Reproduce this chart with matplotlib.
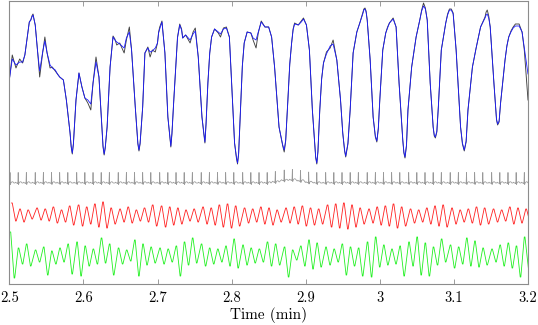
import numpy as np
import matplotlib
matplotlib.use("Agg")
import matplotlib.pyplot as plt

# ---------------- data ----------------
# top trace: time (min) and amplitude (arbitrary units)
top_t = [2.500, 2.504, 2.509, 2.514, 2.518, 2.521, 2.527, 2.529, 2.532, 2.535, 2.538, 2.541,
         2.545, 2.548, 2.551, 2.555, 2.558, 2.562, 2.565, 2.568, 2.573, 2.577, 2.582, 2.585,
         2.590, 2.594, 2.598, 2.602, 2.606, 2.610, 2.613, 2.617, 2.621, 2.625, 2.628, 2.632,
         2.636, 2.640, 2.645, 2.649, 2.655, 2.658, 2.662, 2.665, 2.670, 2.675, 2.680, 2.683,
         2.687, 2.690, 2.693, 2.697, 2.700, 2.703, 2.706, 2.710, 2.714, 2.718, 2.722, 2.727,
         2.730, 2.734, 2.738, 2.744, 2.748, 2.751, 2.755, 2.760, 2.764, 2.768, 2.773, 2.777,
         2.782, 2.785, 2.789, 2.793, 2.797, 2.800, 2.804, 2.808, 2.812, 2.817, 2.821, 2.826,
         2.829, 2.833, 2.836, 2.840, 2.845, 2.850, 2.854, 2.858, 2.864, 2.871, 2.876, 2.881,
         2.885, 2.890, 2.894, 2.897, 2.901, 2.905, 2.909, 2.915, 2.919, 2.924, 2.928, 2.933,
         2.937, 2.942, 2.947, 2.950, 2.954, 2.960, 2.964, 2.969, 2.973, 2.977, 2.980, 2.983,
         2.987, 2.991, 2.996, 3.000, 3.004, 3.008, 3.013, 3.018, 3.022, 3.026, 3.031, 3.034,
         3.038, 3.043, 3.049, 3.054, 3.059, 3.064, 3.068, 3.072, 3.075, 3.079, 3.083, 3.089,
         3.094, 3.099, 3.103, 3.109, 3.114, 3.119, 3.125, 3.130, 3.136, 3.142, 3.145, 3.149,
         3.154, 3.159, 3.163, 3.169, 3.174, 3.180, 3.183, 3.188, 3.192, 3.195, 3.200]

top_black = [204, 229, 216, 225, 221, 229, 262, 264, 270, 259, 234, 207,
             231, 247, 231, 216, 217, 213, 210, 207, 204, 184, 151, 130,
             184, 211, 197, 186, 181, 174, 201, 227, 207, 157, 129, 157,
             217, 248, 239, 241, 231, 244, 257, 234, 177, 133, 177, 231,
             237, 227, 234, 232, 241, 257, 263, 231, 167, 137, 184, 247,
             260, 246, 249, 241, 252, 256, 227, 167, 141, 201, 247, 255,
             251, 247, 256, 257, 247, 201, 141, 120, 174, 241, 252, 251,
             244, 236, 251, 263, 257, 257, 247, 217, 157, 132, 184, 241,
             261, 259, 263, 266, 259, 234, 174, 120, 174, 221, 232, 236,
             244, 224, 184, 151, 127, 174, 231, 252, 261, 271, 276, 264,
             224, 167, 142, 184, 234, 251, 261, 266, 257, 201, 144, 126,
             174, 217, 247, 264, 281, 264, 201, 157, 146, 177, 234, 261,
             275, 271, 234, 157, 133, 174, 217, 236, 257, 267, 274, 257,
             201, 159, 181, 224, 247, 257, 260, 260, 252, 234, 184]

top_blue = [204, 225, 219, 222, 222, 229, 262, 264, 269, 259, 234, 213,
            232, 243, 231, 219, 216, 214, 210, 207, 204, 184, 151, 131,
            184, 211, 197, 186, 184, 180, 201, 222, 207, 157, 130, 157,
            217, 247, 242, 240, 236, 246, 252, 234, 177, 134, 177, 231,
            236, 232, 233, 236, 241, 255, 262, 231, 167, 138, 184, 246,
            259, 246, 249, 244, 250, 253, 227, 167, 142, 201, 247, 255,
            252, 250, 255, 256, 247, 201, 141, 121, 174, 241, 252, 251,
            246, 244, 252, 262, 257, 257, 247, 217, 157, 134, 184, 241,
            260, 259, 262, 265, 259, 234, 174, 121, 174, 221, 230, 238,
            240, 224, 184, 151, 128, 174, 231, 252, 261, 270, 275, 264,
            224, 167, 143, 184, 234, 251, 261, 265, 257, 201, 144, 127,
            174, 217, 247, 264, 278, 264, 201, 157, 147, 177, 234, 261,
            274, 270, 234, 157, 134, 174, 217, 236, 257, 266, 270, 257,
            201, 160, 181, 224, 247, 256, 258, 258, 252, 236, 210]

# extra points read near the rounded troughs and the shoulders of the top trace
top_t_extra = [2.5835, 2.5865, 2.6265, 2.6295, 2.6735, 2.6765, 2.7165, 2.7195,
               2.7625, 2.7655, 2.8065, 2.8095, 2.8690, 2.8730, 2.9135, 2.9165,
               2.9525, 2.9570, 2.9940, 2.9980, 3.0325, 3.0360, 3.0735, 3.0770,
               3.1115, 3.1165, 3.1575, 3.1610,
               2.5305, 2.6385, 2.6425, 2.7015, 2.7325, 2.7705, 2.8145, 2.8785,
               2.8830, 2.9215, 2.9785, 2.9815, 3.0105, 3.0565, 3.0615, 3.0915,
               3.0965, 3.1435, 3.1470, 3.1715, 3.1770]
top_black_extra = [137, 140, 137, 136, 140, 140, 148, 150,
                   150, 160, 126, 130, 138, 143, 126, 132,
                   133, 140, 147, 155, 131, 138, 148, 152,
                   140, 142, 164, 162,
                   268, 237, 245, 252, 255, 231, 218, 220,
                   255, 205, 275, 273, 257, 274, 276, 270,
                   275, 272, 268, 238, 253]
top_blue_extra = [138, 140, 138, 137, 141, 141, 149, 151,
                  151, 160, 127, 131, 139, 144, 127, 133,
                  134, 141, 148, 156, 132, 139, 149, 153,
                  141, 143, 165, 163,
                  267, 236, 244, 251, 254, 231, 218, 220,
                  254, 205, 274, 272, 256, 273, 275, 269,
                  274, 269, 266, 238, 252]

# ECG: R-peak times (min) and local baseline level
ecg_beats = [2.501, 2.512, 2.523, 2.535, 2.546, 2.557, 2.568, 2.579, 2.591, 2.602,
             2.613, 2.624, 2.635, 2.647, 2.658, 2.669, 2.680, 2.691, 2.703, 2.714,
             2.725, 2.736, 2.747, 2.759, 2.770, 2.781, 2.792, 2.803, 2.815, 2.826,
             2.837, 2.848, 2.859, 2.871, 2.882, 2.893, 2.904, 2.915, 2.927, 2.938,
             2.949, 2.960, 2.971, 2.983, 2.994, 3.005, 3.016, 3.027, 3.039, 3.050,
             3.061, 3.072, 3.083, 3.095, 3.106, 3.117, 3.128, 3.139, 3.151, 3.162,
             3.173, 3.184, 3.195]
ecg_base = [101, 101, 101, 101, 101, 101, 101, 101, 101, 101,
            101, 101, 101, 101, 101, 101, 101, 101, 101, 101,
            101, 101, 101, 101, 101, 101, 101, 101, 101, 101,
            101, 101, 102, 103.5, 104, 103, 101.5, 101, 101, 101,
            101, 101, 101, 101, 101, 101, 101, 101, 101, 101,
            101, 101, 101, 101, 101, 101, 101, 101, 101, 101,
            101, 101, 101]
# one beat waveform: offset from R peak (min) and height above baseline
beat_dt = [-0.0045, -0.0035, -0.0025, -0.0012, -0.0005, 0.0, 0.0005, 0.0011, 0.0025, 0.0038, 0.0052]
beat_v = [0, 0.8, 0, 0, -0.6, 10.5, -1.5, 0, 1.2, 1.2, 0]

# red trace: per-beat maximum and minimum
red_hi = [81, 75, 74, 76, 75, 77, 74, 78, 79, 77, 80, 82, 76, 75, 77, 74, 76, 79, 78, 77,
          76, 74, 75, 77, 76, 79, 80, 78, 76, 75, 77, 76, 74, 76, 77, 78, 76, 75, 79, 80,
          81, 79, 76, 75, 77, 78, 80, 77, 75, 74, 76, 78, 79, 76, 74, 75, 77, 76, 75, 74,
          77, 76, 75]
red_lo = [63, 62, 65, 64, 63, 61, 62, 59, 58, 60, 57, 56, 60, 62, 61, 63, 62, 58, 57, 59,
          60, 63, 62, 60, 59, 57, 56, 58, 61, 62, 60, 59, 62, 61, 60, 58, 59, 60, 57, 56,
          55, 57, 60, 61, 59, 58, 56, 58, 61, 62, 60, 58, 57, 60, 62, 61, 59, 60, 62, 63,
          60, 61, 62]

# green trace: per-beat maximum and minimum
green_hi = [52, 36, 40, 34, 37, 33, 36, 40, 42, 38, 35, 46, 40, 36, 34, 44, 40, 37, 36, 35,
            38, 42, 46, 40, 36, 35, 38, 45, 39, 36, 35, 42, 40, 37, 34, 38, 44, 41, 37, 35,
            40, 37, 36, 42, 47, 39, 35, 38, 42, 47, 41, 37, 45, 39, 37, 46, 43, 36, 35, 39,
            41, 38, 47]
green_lo = [6, 20, 18, 22, 9, 20, 22, 10, 8, 18, 20, 21, 9, 20, 23, 8, 19, 21, 20, 22,
            8, 19, 21, 18, 20, 22, 18, 16, 19, 21, 22, 18, 19, 7, 24, 18, 15, 17, 19, 22,
            9, 18, 8, 7, 17, 19, 20, 8, 18, 9, 8, 19, 22, 16, 20, 18, 17, 19, 22, 18,
            16, 7, 16]

xticks = [2.5, 2.6, 2.7, 2.8, 2.9, 3.0, 3.1, 3.2]
xtick_labels = ["2.5", "2.6", "2.7", "2.8", "2.9", "3", "3.1", "3.2"]

# ---------------- build traces ----------------
tt = np.array(top_t + top_t_extra)
order = np.argsort(tt)
tt = tt[order]
tb = np.array(top_black + top_black_extra)[order]
tu = np.array(top_blue + top_blue_extra)[order]

ecg_t, ecg_y = [2.495], [ecg_base[0]]
for b, base in zip(ecg_beats, ecg_base):
    for dt, v in zip(beat_dt, beat_v):
        ecg_t.append(b + dt)
        ecg_y.append(base + v)
ecg_t.append(3.205); ecg_y.append(ecg_base[-1])

red_t, red_y, grn_t, grn_y = [], [], [], []
for b, hi, lo in zip(ecg_beats, red_hi, red_lo):
    red_t += [b + 0.0020, b + 0.0030, b + 0.0075, b + 0.0083]
    red_y += [hi, hi, lo, lo]
for b, hi, lo in zip(ecg_beats, green_hi, green_lo):
    grn_t += [b + 0.0000, b + 0.0009, b + 0.0055, b + 0.0063]
    grn_y += [hi, hi, lo, lo]

# ---------------- figure ----------------
plt.rcParams["font.family"] = ["cmr10", "DejaVu Serif"]
plt.rcParams["axes.formatter.use_mathtext"] = True

fig = plt.figure(figsize=(5.38, 3.25), dpi=100)
ax = fig.add_axes([9.3 / 538, 41 / 325, 518.7 / 538, 283 / 325])

ax.plot(tt, tb, color="#404040", lw=0.65, solid_joinstyle="round")
ax.plot(tt, tu, color="#1a1aff", lw=0.6, solid_joinstyle="round")
ax.plot(ecg_t, ecg_y, color="#999999", lw=0.55)
ax.plot(red_t, red_y, color="#ff2020", lw=0.6, solid_joinstyle="round")
ax.plot(grn_t, grn_y, color="#20f020", lw=0.6, solid_joinstyle="round")

ax.set_xlim(2.5, 3.2)
ax.set_ylim(0, 283)
ax.set_xticks(xticks)
ax.set_xticklabels(xtick_labels, fontsize=10.5)
ax.set_yticks([])
ax.tick_params(axis="x", direction="in", length=3.5, width=0.6, color="#8c8c8c",
               top=True, pad=5)
for s in ax.spines.values():
    s.set_color("#8c8c8c")
    s.set_linewidth(0.8)
ax.set_xlabel("Time (min)", fontsize=11, labelpad=2)

fig.savefig("out.png", dpi=100)
